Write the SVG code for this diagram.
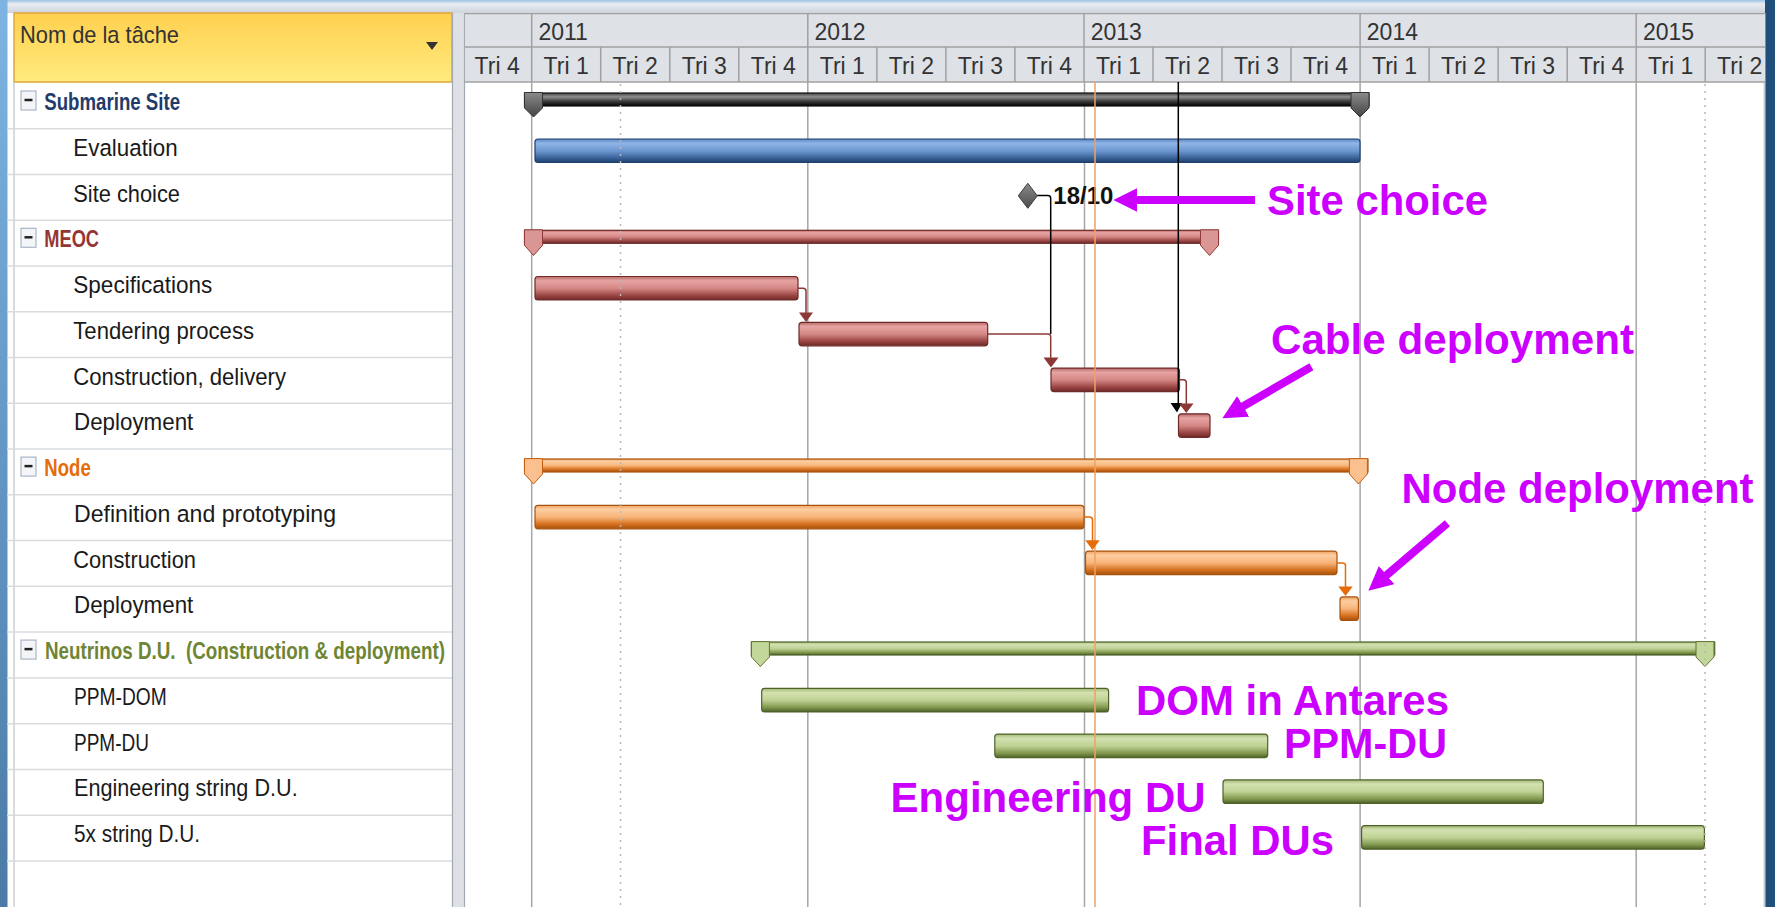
<svg xmlns="http://www.w3.org/2000/svg" width="1775" height="907" viewBox="0 0 1775 907">
<style>
.lbl{font-family:"Liberation Sans",Arial,sans-serif;font-size:24.5px;fill:#1a1a1a}
.grp{font-weight:bold}
.hdr{font-family:"Liberation Sans",Arial,sans-serif;font-size:23px;fill:#333}
.ann{font-family:"Liberation Sans",Arial,sans-serif;font-size:42px;font-weight:bold;fill:#CC00FF}
.rowline{stroke:#D9DCDF;stroke-width:1.5}
.grid{stroke:#A6A6A6;stroke-width:1.5}
.hgrid{stroke:#A0A0A0;stroke-width:1.5}
.dot{stroke:#B8B8B8;stroke-width:1.5;stroke-dasharray:2 5}
.bBlue{fill:url(#gBlue);stroke:#1F3F6E;stroke-width:1.2}
.bRed{fill:url(#gRed);stroke:#6E2A28;stroke-width:1.2}
.bOr{fill:url(#gOr);stroke:#A8520C;stroke-width:1.2}
.bGr{fill:url(#gGr);stroke:#4F6228;stroke-width:1.2}
.lRed{fill:none;stroke:#8C3836;stroke-width:1.5}
.lOr{fill:none;stroke:#E46C0A;stroke-width:1.5}
.lBk{fill:none;stroke:#000;stroke-width:1.5}
.mag{stroke:#CC00FF;stroke-width:8;marker-end:url(#mag)}
</style>
<defs>
<linearGradient id="gBlue" x1="0" y1="0" x2="0" y2="1"><stop offset="0" stop-color="#5A86C2"/><stop offset="0.18" stop-color="#8FB5E6"/><stop offset="0.5" stop-color="#6E98D2"/><stop offset="0.8" stop-color="#3A6399"/><stop offset="1" stop-color="#1F3F6E"/></linearGradient>
<linearGradient id="gRed" x1="0" y1="0" x2="0" y2="1"><stop offset="0" stop-color="#B86A68"/><stop offset="0.18" stop-color="#E6A4A2"/><stop offset="0.5" stop-color="#D48886"/><stop offset="0.8" stop-color="#9C4745"/><stop offset="1" stop-color="#6E2A28"/></linearGradient>
<linearGradient id="gOr" x1="0" y1="0" x2="0" y2="1"><stop offset="0" stop-color="#F1A463"/><stop offset="0.18" stop-color="#FDCDA0"/><stop offset="0.5" stop-color="#F8B57A"/><stop offset="0.8" stop-color="#D6711F"/><stop offset="1" stop-color="#A8520C"/></linearGradient>
<linearGradient id="gGr" x1="0" y1="0" x2="0" y2="1"><stop offset="0" stop-color="#A3B977"/><stop offset="0.18" stop-color="#D3E1B0"/><stop offset="0.5" stop-color="#C0D295"/><stop offset="0.8" stop-color="#839A50"/><stop offset="1" stop-color="#4F6228"/></linearGradient>
<linearGradient id="gBk" x1="0" y1="0" x2="0" y2="1"><stop offset="0" stop-color="#444"/><stop offset="0.3" stop-color="#8f8f8f"/><stop offset="0.6" stop-color="#444"/><stop offset="1" stop-color="#000"/></linearGradient>
<linearGradient id="gCapBk" x1="0" y1="0" x2="0" y2="1"><stop offset="0" stop-color="#8a8a8a"/><stop offset="1" stop-color="#444"/></linearGradient>
<linearGradient id="gYel" x1="0" y1="0" x2="0" y2="1"><stop offset="0" stop-color="#FFD04F"/><stop offset="1" stop-color="#FFEB7E"/></linearGradient>
<linearGradient id="gLeft" x1="0" y1="0" x2="0" y2="1"><stop offset="0" stop-color="#7DB4E2"/><stop offset="1" stop-color="#4A7BA6"/></linearGradient>
<linearGradient id="gTop" x1="0" y1="0" x2="0" y2="1"><stop offset="0" stop-color="#9CC3E6"/><stop offset="0.3" stop-color="#E9EDF1"/><stop offset="1" stop-color="#CDD4DC"/></linearGradient>
<linearGradient id="gDia" x1="0" y1="0" x2="0" y2="1"><stop offset="0" stop-color="#8a8a8a"/><stop offset="1" stop-color="#4c4c4c"/></linearGradient>
<clipPath id="chartClip"><rect x="465" y="13" width="1300" height="894"/></clipPath>
<marker id="mag" markerUnits="userSpaceOnUse" markerWidth="26" markerHeight="26" viewBox="0 0 26 26" refX="10" refY="12" orient="auto"><path d="M0,0 L24,12 L0,24 z" fill="#CC00FF"/></marker>
</defs>

<!-- window frame -->
<rect x="0" y="0" width="1775" height="907" fill="#ffffff"/>
<rect x="0" y="0" width="1775" height="13" fill="url(#gTop)"/>
<rect x="0" y="0" width="7.5" height="907" fill="url(#gLeft)"/>
<rect x="1765" y="0" width="10" height="907" fill="#214F7B"/>
<line x1="1764.5" y1="13" x2="1764.5" y2="907" stroke="#C9CED4" stroke-width="2"/>

<!-- left table -->
<g id="table">
<rect x="14" y="13" width="438" height="69" fill="url(#gYel)" stroke="#E2A53B" stroke-width="1.5"/>
<text class="hdr" x="20" y="43" style="font-size:24px" textLength="159" lengthAdjust="spacingAndGlyphs">Nom de la tâche</text>
<polygon points="426,42 438,42 432,50" fill="#333"/>
<line x1="14" y1="82" x2="14" y2="907" stroke="#CCD0D4" stroke-width="1.5"/>
<g>
<line class="rowline" x1="7" y1="128.76" x2="452" y2="128.76"/>
<line class="rowline" x1="7" y1="174.52" x2="452" y2="174.52"/>
<line class="rowline" x1="7" y1="220.28" x2="452" y2="220.28"/>
<line class="rowline" x1="7" y1="266.04" x2="452" y2="266.04"/>
<line class="rowline" x1="7" y1="311.8" x2="452" y2="311.8"/>
<line class="rowline" x1="7" y1="357.56" x2="452" y2="357.56"/>
<line class="rowline" x1="7" y1="403.32" x2="452" y2="403.32"/>
<line class="rowline" x1="7" y1="449.08" x2="452" y2="449.08"/>
<line class="rowline" x1="7" y1="494.84" x2="452" y2="494.84"/>
<line class="rowline" x1="7" y1="540.6" x2="452" y2="540.6"/>
<line class="rowline" x1="7" y1="586.36" x2="452" y2="586.36"/>
<line class="rowline" x1="7" y1="632.12" x2="452" y2="632.12"/>
<line class="rowline" x1="7" y1="677.88" x2="452" y2="677.88"/>
<line class="rowline" x1="7" y1="723.64" x2="452" y2="723.64"/>
<line class="rowline" x1="7" y1="769.4" x2="452" y2="769.4"/>
<line class="rowline" x1="7" y1="815.16" x2="452" y2="815.16"/>
<line class="rowline" x1="7" y1="860.92" x2="452" y2="860.92"/>
</g>
</g>

<!-- divider -->
<rect x="452" y="13" width="13" height="894" fill="#DDE1E6"/>
<line x1="452.5" y1="13" x2="452.5" y2="907" stroke="#A3A9B0" stroke-width="1.2"/>
<line x1="464.5" y1="13" x2="464.5" y2="907" stroke="#A3A9B0" stroke-width="1.2"/>

<!-- chart header & grid -->
<g id="timescale" clip-path="url(#chartClip)">
<rect x="465" y="13" width="1300" height="69" fill="#DEE2E7"/>
<line class="hgrid" x1="465" y1="13.5" x2="1765" y2="13.5"/>
<line class="hgrid" x1="465" y1="47" x2="1765" y2="47"/>
<line class="hgrid" x1="465" y1="82" x2="1765" y2="82"/>
<g class="hgrid">
<line x1="531.7" y1="13" x2="531.7" y2="82"/><line x1="807.8" y1="13" x2="807.8" y2="82"/><line x1="1084" y1="13" x2="1084" y2="82"/><line x1="1360.1" y1="13" x2="1360.1" y2="82"/><line x1="1636.2" y1="13" x2="1636.2" y2="82"/>
<line x1="600.7" y1="47" x2="600.7" y2="82"/><line x1="669.8" y1="47" x2="669.8" y2="82"/><line x1="738.8" y1="47" x2="738.8" y2="82"/>
<line x1="876.9" y1="47" x2="876.9" y2="82"/><line x1="945.9" y1="47" x2="945.9" y2="82"/><line x1="1014.9" y1="47" x2="1014.9" y2="82"/>
<line x1="1153" y1="47" x2="1153" y2="82"/><line x1="1222" y1="47" x2="1222" y2="82"/><line x1="1291" y1="47" x2="1291" y2="82"/>
<line x1="1429.1" y1="47" x2="1429.1" y2="82"/><line x1="1498.1" y1="47" x2="1498.1" y2="82"/><line x1="1567.2" y1="47" x2="1567.2" y2="82"/>
<line x1="1705.2" y1="47" x2="1705.2" y2="82"/>
</g>
<g class="hdr">
<text x="538.4" y="39.5">2011</text><text x="814.5" y="39.5">2012</text><text x="1090.7" y="39.5">2013</text><text x="1366.8" y="39.5">2014</text><text x="1642.9" y="39.5">2015</text>
</g>
<g class="hdr" text-anchor="middle">
<text x="497.2" y="73.5">Tri 4</text><text x="566.2" y="73.5">Tri 1</text><text x="635.2" y="73.5">Tri 2</text><text x="704.3" y="73.5">Tri 3</text><text x="773.3" y="73.5">Tri 4</text>
<text x="842.3" y="73.5">Tri 1</text><text x="911.4" y="73.5">Tri 2</text><text x="980.4" y="73.5">Tri 3</text><text x="1049.4" y="73.5">Tri 4</text>
<text x="1118.5" y="73.5">Tri 1</text><text x="1187.5" y="73.5">Tri 2</text><text x="1256.5" y="73.5">Tri 3</text><text x="1325.5" y="73.5">Tri 4</text>
<text x="1394.6" y="73.5">Tri 1</text><text x="1463.6" y="73.5">Tri 2</text><text x="1532.6" y="73.5">Tri 3</text><text x="1601.7" y="73.5">Tri 4</text>
<text x="1670.7" y="73.5">Tri 1</text><text x="1739.7" y="73.5">Tri 2</text>
</g>
<g class="grid">
<line x1="531.7" y1="82" x2="531.7" y2="907"/><line x1="807.8" y1="82" x2="807.8" y2="907"/><line x1="1084.5" y1="82" x2="1084.5" y2="907"/><line x1="1360.1" y1="82" x2="1360.1" y2="907"/><line x1="1636.2" y1="82" x2="1636.2" y2="907"/>
</g>
</g>

<!-- tasks -->
<g id="submarine-site">
<rect x="21" y="91" width="15" height="19" fill="#F3F5F8" stroke="#A9B6C6" stroke-width="1.2"/>
<line x1="24.5" y1="100" x2="32.5" y2="100" stroke="#222" stroke-width="2.5"/>
<text class="lbl grp" x="44.3" y="110" style="fill:#233B6A" textLength="135.7" lengthAdjust="spacingAndGlyphs">Submarine Site</text>
<rect x="524.5" y="93" width="844.5" height="13" fill="url(#gBk)" stroke="#111" stroke-width="1.2"/>
<polygon points="524.5,92.5 542.5,92.5 542.5,108 533.5,117 524.5,108" fill="url(#gCapBk)" stroke="#333" stroke-width="1"/>
<polygon points="1351,92.5 1369,92.5 1369,108 1360,117 1351,108" fill="url(#gCapBk)" stroke="#333" stroke-width="1"/>
</g>
<g id="evaluation">
<text class="lbl" x="73.3" y="155.8" textLength="104.4" lengthAdjust="spacingAndGlyphs">Evaluation</text>
<rect class="bBlue" x="535" y="139" width="825" height="23.5" rx="3"/>
</g>
<g id="site-choice">
<text class="lbl" x="73.3" y="201.5" textLength="106.7" lengthAdjust="spacingAndGlyphs">Site choice</text>
<polygon points="1018.3,195.8 1027.8,183.3 1037.3,195.8 1027.8,208.3" fill="url(#gDia)" stroke="#3a3a3a" stroke-width="1"/>
<text x="1053.3" y="204" font-family="Liberation Sans, Arial, sans-serif" font-size="24" font-weight="bold" fill="#111" textLength="60" lengthAdjust="spacingAndGlyphs">18/10</text>
</g>
<g id="meoc">
<rect x="21" y="228.3" width="15" height="19" fill="#F3F5F8" stroke="#A9B6C6" stroke-width="1.2"/>
<line x1="24.5" y1="237.3" x2="32.5" y2="237.3" stroke="#222" stroke-width="2.5"/>
<text class="lbl grp" x="44.3" y="247.3" style="fill:#963634" textLength="54.7" lengthAdjust="spacingAndGlyphs">MEOC</text>
<rect class="bRed" x="524.5" y="230.3" width="694" height="13"/>
<polygon points="524.5,229.8 542.5,229.8 542.5,245.3 533.5,255.5 524.5,245.3" fill="#D99694" stroke="#8E3B39" stroke-width="1"/>
<polygon points="1200.5,229.8 1218.5,229.8 1218.5,245.3 1209.5,255.5 1200.5,245.3" fill="#D99694" stroke="#8E3B39" stroke-width="1"/>
</g>
<g id="specifications">
<text class="lbl" x="73.3" y="293" textLength="139" lengthAdjust="spacingAndGlyphs">Specifications</text>
<rect class="bRed" x="535" y="276.5" width="263" height="23.5" rx="3"/>
</g>
<g id="tendering-process">
<text class="lbl" x="73.3" y="338.8" textLength="180.7" lengthAdjust="spacingAndGlyphs">Tendering process</text>
<rect class="bRed" x="799" y="322.3" width="188.7" height="23.5" rx="3"/>
</g>
<g id="construction-delivery">
<text class="lbl" x="73.3" y="384.6" textLength="212.7" lengthAdjust="spacingAndGlyphs">Construction, delivery</text>
<rect class="bRed" x="1051" y="368.1" width="128.5" height="23.5" rx="3"/>
</g>
<g id="meoc-deployment">
<text class="lbl" x="74" y="430.3" textLength="119.3" lengthAdjust="spacingAndGlyphs">Deployment</text>
<rect class="bRed" x="1178.5" y="413.8" width="31.5" height="23.5" rx="3"/>
</g>
<g id="node">
<rect x="21" y="457.1" width="15" height="19" fill="#F3F5F8" stroke="#A9B6C6" stroke-width="1.2"/>
<line x1="24.5" y1="466.1" x2="32.5" y2="466.1" stroke="#222" stroke-width="2.5"/>
<text class="lbl grp" x="44.3" y="476.1" style="fill:#E46C0A" textLength="46.4" lengthAdjust="spacingAndGlyphs">Node</text>
<rect class="bOr" x="524.5" y="459" width="843.5" height="13"/>
<polygon points="524.5,458.6 542.5,458.6 542.5,474 533.5,484 524.5,474" fill="#FAC08F" stroke="#C65F0F" stroke-width="1"/>
<polygon points="1349.4,458.6 1367.4,458.6 1367.4,474 1358.4,484 1349.4,474" fill="#FAC08F" stroke="#C65F0F" stroke-width="1"/>
</g>
<g id="definition-prototyping">
<text class="lbl" x="74" y="521.8" textLength="262" lengthAdjust="spacingAndGlyphs">Definition and prototyping</text>
<rect class="bOr" x="535" y="505.3" width="549" height="23.5" rx="3"/>
</g>
<g id="node-construction">
<text class="lbl" x="73.3" y="567.6" textLength="122.7" lengthAdjust="spacingAndGlyphs">Construction</text>
<rect class="bOr" x="1085.5" y="551.1" width="251.5" height="23.5" rx="3"/>
</g>
<g id="node-deployment">
<text class="lbl" x="74" y="613.4" textLength="119.3" lengthAdjust="spacingAndGlyphs">Deployment</text>
<rect class="bOr" x="1340" y="596.9" width="18.4" height="23.5" rx="3"/>
</g>
<g id="neutrinos-du">
<rect x="21" y="640.1" width="15" height="19" fill="#F3F5F8" stroke="#A9B6C6" stroke-width="1.2"/>
<line x1="24.5" y1="649.1" x2="32.5" y2="649.1" stroke="#222" stroke-width="2.5"/>
<text class="lbl grp" x="45" y="659.1" style="fill:#6E8533" textLength="400" lengthAdjust="spacingAndGlyphs">Neutrinos D.U.&#160; (Construction &amp; deployment)</text>
<rect class="bGr" x="751.4" y="642" width="963.3" height="13"/>
<polygon points="751.4,641.6 769.4,641.6 769.4,657 760.4,666.5 751.4,657" fill="#C4D79B" stroke="#5F7530" stroke-width="1"/>
<polygon points="1696,641.6 1714,641.6 1714,657 1705,666.5 1696,657" fill="#C4D79B" stroke="#5F7530" stroke-width="1"/>
</g>
<g id="ppm-dom">
<text class="lbl" x="74" y="704.9" textLength="92.7" lengthAdjust="spacingAndGlyphs">PPM-DOM</text>
<rect class="bGr" x="761.7" y="688.4" width="346.9" height="23.5" rx="3"/>
</g>
<g id="ppm-du">
<text class="lbl" x="74" y="750.6" textLength="75" lengthAdjust="spacingAndGlyphs">PPM-DU</text>
<rect class="bGr" x="994.8" y="734.1" width="272.9" height="23.5" rx="3"/>
</g>
<g id="engineering-string-du">
<text class="lbl" x="74" y="796.4" textLength="223.7" lengthAdjust="spacingAndGlyphs">Engineering string D.U.</text>
<rect class="bGr" x="1223" y="779.9" width="320.3" height="23.5" rx="3"/>
</g>
<g id="string-du-5x">
<text class="lbl" x="74" y="842.2" textLength="126" lengthAdjust="spacingAndGlyphs">5x string D.U.</text>
<rect class="bGr" x="1361.6" y="825.7" width="342.8" height="23.5" rx="3"/>
</g>

<!-- overlay lines: dotted and current date -->
<g id="markers">
<line class="dot" x1="620.5" y1="84" x2="620.5" y2="907"/>
<line class="dot" x1="1705" y1="84" x2="1705" y2="907"/>
<line x1="1095" y1="82" x2="1095" y2="907" stroke="#F2A163" stroke-width="1.5"/>
</g>

<!-- connectors -->
<g id="connectors">
<path class="lBk" d="M1178.3,82 V404"/>
<polygon points="1170.5,403 1182,403 1177,412.5" fill="#000"/>
<path class="lBk" d="M1037.3,195.5 H1048 Q1050.7,195.5 1050.7,198.5 V334"/>
<path class="lRed" d="M798,288.3 H803 Q806,288.3 806,291.3 V313"/>
<polygon points="799,312.5 813,312.5 806,322" fill="#8C3836"/>
<path class="lRed" d="M987.7,334 H1048 Q1050.7,334 1050.7,337 V358"/>
<polygon points="1043.5,357.5 1058.5,357.5 1051,367.5" fill="#8C3836"/>
<path class="lRed" d="M1179.5,379.8 H1183.3 Q1186.3,379.8 1186.3,382.8 V404"/>
<polygon points="1179,403.5 1193.5,403.5 1186.3,413" fill="#8C3836"/>
<path class="lOr" d="M1084,517.1 H1089.5 Q1092.5,517.1 1092.5,520.1 V541"/>
<polygon points="1085.3,540.3 1099.7,540.3 1092.5,550" fill="#E46C0A"/>
<path class="lOr" d="M1337,562.9 H1342.5 Q1345.5,562.9 1345.5,565.9 V587"/>
<polygon points="1338.3,586.5 1352.7,586.5 1345.5,596" fill="#E46C0A"/>
</g>

<!-- annotations -->
<g id="annotations">
<line class="mag" x1="1255" y1="200" x2="1127.3" y2="200"/>
<text class="ann" x="1267" y="215" textLength="221" lengthAdjust="spacingAndGlyphs">Site choice</text>
<line class="mag" x1="1311.4" y1="366.7" x2="1234.5" y2="411.3"/>
<text class="ann" x="1271" y="354" textLength="363" lengthAdjust="spacingAndGlyphs">Cable deployment</text>
<line class="mag" x1="1447.4" y1="523.3" x2="1379" y2="581.6"/>
<text class="ann" x="1401.5" y="503" textLength="352" lengthAdjust="spacingAndGlyphs">Node deployment</text>
<text class="ann" x="1136" y="715" textLength="313" lengthAdjust="spacingAndGlyphs">DOM in Antares</text>
<text class="ann" x="1284" y="758" textLength="163" lengthAdjust="spacingAndGlyphs">PPM-DU</text>
<text class="ann" x="890.6" y="812" textLength="315" lengthAdjust="spacingAndGlyphs">Engineering DU</text>
<text class="ann" x="1141" y="855" textLength="193" lengthAdjust="spacingAndGlyphs">Final DUs</text>
</g>
</svg>
